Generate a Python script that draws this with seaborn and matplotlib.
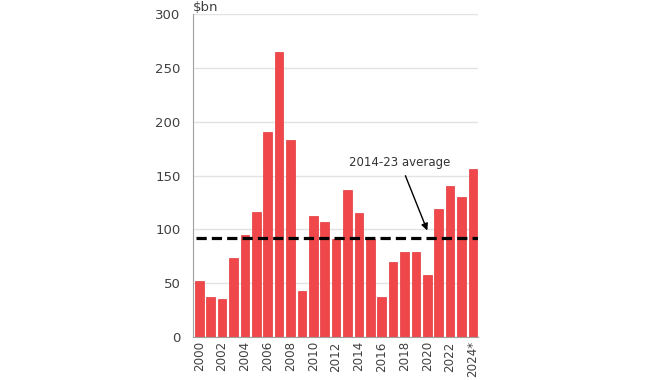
import matplotlib
matplotlib.use("Agg")

import matplotlib.pyplot as plt
import seaborn as sns
import pandas as pd

# データ
years = [str(y) for y in range(2000, 2024)] + ["2024*"]
values = [52, 37, 35, 73, 95, 116, 190, 265, 183, 43,
          112, 107, 91, 137, 115, 91, 37, 70, 79, 79,
          58, 119, 140, 130, 156]
avg_label = "2014-23 average"
avg_value = 91.8
y_ticks = [0, 50, 100, 150, 200, 250, 300]

df = pd.DataFrame({"year": years, "value": values})

sns.set_style("white")
plt.rcParams["font.family"] = ["DejaVu Sans"]

fig = plt.figure(figsize=(6.7, 3.8), dpi=100)
ax = fig.add_axes([0.288, 0.113, 0.425, 0.85])

sns.barplot(data=df, x="year", y="value", color="#F0474A", saturation=1,
            width=0.75, edgecolor="#E2393C", linewidth=0.5, ax=ax, zorder=2)

ax.set_xlim(-0.55, 24.42)
ax.set_ylim(0, 300)
ax.set_yticks(y_ticks)
ax.yaxis.grid(True, color="#E3E3E3", linewidth=1.0, zorder=0)
ax.set_axisbelow(True)

ax.hlines(avg_value, -0.3, 24.42, colors="black", linestyles=(0, (3.2, 1.6)),
          linewidth=2.3, zorder=3)
ax.annotate(avg_label, xy=(20.0, 99), xytext=(17.6, 162.5),
            ha="center", va="center", fontsize=8.5, color="#333333",
            arrowprops=dict(arrowstyle="-|>", color="black", lw=1.0,
                            mutation_scale=10, shrinkA=3, shrinkB=0))

ticks = list(range(0, 25, 2))
ax.set_xticks(ticks)
ax.set_xticklabels([years[i] for i in ticks], rotation=90)
ax.tick_params(axis="y", length=0, labelsize=9.5, labelcolor="#404040", pad=9)
ax.tick_params(axis="x", length=0, labelsize=8.6, labelcolor="#404040", pad=3)
ax.set_xlabel("")
ax.set_ylabel("")

for side in ["top", "right"]:
    ax.spines[side].set_visible(False)
ax.spines["left"].set_color("#A0A0A0")
ax.spines["bottom"].set_color("#A0A0A0")

ax.text(0.0, 1.0, "$bn", transform=ax.transAxes, ha="left", va="bottom",
        fontsize=9.5, color="#404040")

fig.savefig("out.png", dpi=100)
